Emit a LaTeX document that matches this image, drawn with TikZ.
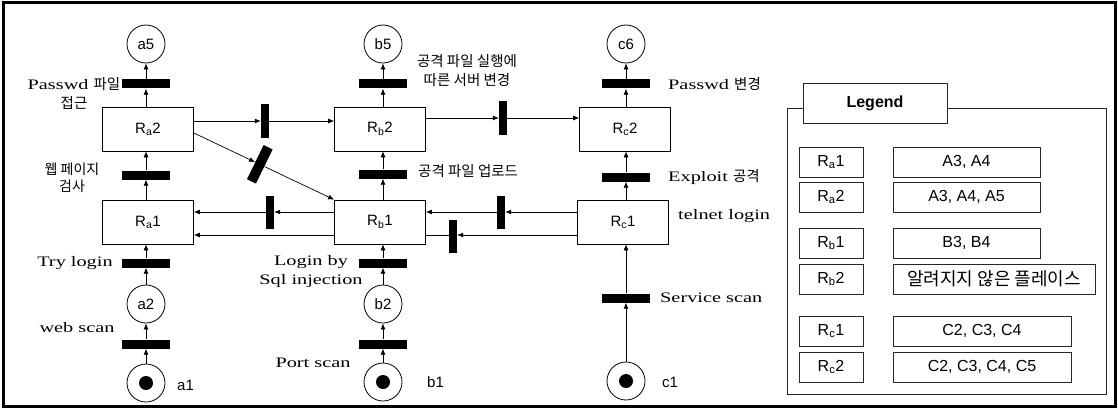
\documentclass[tikz,border=0pt]{standalone}
\usepackage{fontspec}
\setmainfont{Liberation Serif}
\setsansfont{Liberation Sans}
\newfontfamily\lblfont[FakeStretch=1.4]{Liberation Serif}
\newfontfamily\krfont{Noto Sans CJK KR}
\newcommand\hk[1]{{\krfont #1}}
\usetikzlibrary{arrows.meta,calc}

\begin{document}
\begin{tikzpicture}[x=1pt,y=-1pt,
  plc/.style={circle,draw,line width=0.8pt,minimum size=38pt,inner sep=0pt,font=\sffamily\fontsize{15}{15}\selectfont},
  hbar/.style={rectangle,fill=black,minimum width=48pt,minimum height=9pt,inner sep=0pt},
  vbar/.style={rectangle,fill=black,minimum width=8pt,minimum height=33pt,inner sep=0pt},
  rbox/.style={rectangle,draw,line width=0.7pt,minimum width=91pt,minimum height=44pt,inner sep=0pt,font=\sffamily\fontsize{15}{15}\selectfont},
  lab/.style={inner sep=0pt,align=center,font=\lblfont\fontsize{14.5}{19}\selectfont},
  sublab/.style={inner sep=0pt,anchor=west,font=\sffamily\fontsize{15}{15}\selectfont},
  arr/.style={line width=0.7pt,-{Latex[length=6pt,width=5pt]}},
  link/.style={line width=0.7pt},
  tok/.style={circle,fill=black,minimum size=14pt,inner sep=0pt},
  lgbox/.style={rectangle,draw=black!85,line width=0.7pt,minimum height=30pt,inner sep=0pt,font=\sffamily\fontsize{16}{16}\selectfont},
]
\useasboundingbox (0,0) rectangle (1118,409);
% outer frame
\draw[line width=3pt] (3,3) rectangle (1115,406);

% ---------- column a ----------
\node[plc] (a5) at (146,44) {a5};
\node[hbar] (ta5) at (146,84) {};
\node[rbox] (Ra2) at (148,129) {R\textsubscript{a}2};
\node[hbar] (taw) at (146,175) {};
\node[rbox] (Ra1) at (148,222) {R\textsubscript{a}1};
\node[hbar] (tat) at (146,263) {};
\node[plc] (a2) at (146,304) {a2};
\node[hbar] (tas) at (146,344) {};
\node[plc] (a1) at (146,383) {};
\node[tok] (ka1) at (a1) {};

\draw[arr] (a1) -- (tas);
\draw[arr] (tas) -- (a2);
\draw[arr] (a2) -- (tat);
\draw[arr] (tat) -- (Ra1.south -| tat);
\draw[arr] (Ra1.north -| taw) -- (taw);
\draw[arr] (taw) -- (Ra2.south -| taw);
\draw[arr] (Ra2.north -| ta5) -- (ta5);
\draw[arr] (ta5) -- (a5);

% ---------- column b ----------
\node[plc] (b5) at (383,44) {b5};
\node[hbar] (tb5) at (383,84) {};
\node[rbox] (Rb2) at (380,129) {R\textsubscript{b}2};
\node[hbar] (tbu) at (383,174) {};
\node[rbox] (Rb1) at (380,222) {R\textsubscript{b}1};
\node[hbar] (tbl) at (383,263) {};
\node[plc] (b2) at (383,304) {b2};
\node[hbar] (tbs) at (383,344) {};
\node[plc] (b1) at (383,382) {};
\node[tok] (kb1) at (b1) {};

\draw[arr] (b1) -- (tbs);
\draw[arr] (tbs) -- (b2);
\draw[arr] (b2) -- (tbl);
\draw[arr] (tbl) -- (Rb1.south -| tbl);
\draw[arr] (Rb1.north -| tbu) -- (tbu);
\draw[arr] (tbu) -- (Rb2.south -| tbu);
\draw[arr] (Rb2.north -| tb5) -- (tb5);
\draw[arr] (tb5) -- (b5);

% ---------- column c ----------
\node[plc] (c6) at (626,44) {c6};
\node[hbar] (tc6) at (626,84) {};
\node[rbox] (Rc2) at (625,129) {R\textsubscript{c}2};
\node[hbar] (tce) at (626,177) {};
\node[rbox] (Rc1) at (623,222) {R\textsubscript{c}1};
\node[hbar] (tcs) at (626,298) {};
\node[plc] (c1) at (626,381) {};
\node[tok] (kc1) at (c1) {};

\draw[arr] (c1) -- (tcs);
\draw[arr] (tcs) -- (Rc1.south -| tcs);
\draw[arr] (Rc1.north -| tce) -- (tce);
\draw[arr] (tce) -- (Rc2.south -| tce);
\draw[arr] (Rc2.north -| tc6) -- (tc6);
\draw[arr] (tc6) -- (c6);

% ---------- cross links ----------
% upper row, left to right
\node[vbar] (tab) at (265,121) {};
\draw[arr] (Ra2.east |- tab) -- (tab);
\draw[arr] (tab) -- (Rb2.west |- tab);
\node[vbar] (tbc) at (503,118) {};
\draw[arr] (Rb2.east |- tbc) -- (tbc);
\draw[arr] (tbc) -- (Rc2.west |- tbc);

% diagonal Ra2 -> Rb1
\coordinate (dgs) at ($(Ra2.east)+(0,4)$);
\node[vbar,minimum height=38pt,minimum width=10pt,rotate=-26] (tdg) at ($(dgs)!0.47!(Rb1.north west)$) {};
\draw[arr] (dgs) -- (tdg);
\draw[arr] (tdg) -- (Rb1.north west);

% lower row, right to left
\node[vbar] (tba) at (270,212) {};
\draw[arr] (Rb1.west |- tba) -- (tba);
\draw[arr] (tba) -- (Ra1.east |- tba);
\coordinate (lowab) at (300,235);
\draw[arr] (Rb1.west |- lowab) -- (Ra1.east |- lowab);

\node[vbar] (tcb1) at (501,212) {};
\draw[arr] (Rc1.west |- tcb1) -- (tcb1);
\draw[arr] (tcb1) -- (Rb1.east |- tcb1);
\node[vbar] (tcb2) at (453,236) {};
\coordinate (lowbc) at (500,235);
\draw[arr] (Rc1.west |- lowbc) -- (tcb2.east |- lowbc);
\draw[link] (tcb2.west |- lowbc) -- (Rb1.east |- lowbc);

% ---------- transition labels ----------
\node[lab] (la5) at (74,93) {Passwd \hk{파일}\\\hk{접근}};
\node[lab,font=\krfont\fontsize{14}{17}\selectfont] (law) at (72,178) {웹 페이지\\검사};
\node[lab] (lat) at (75,263) {Try login};
\node[lab] (las) at (77,328) {web scan};
\node[sublab] (na1) at (177,385) {a1};

\node[lab,font=\krfont\fontsize{14.5}{19}\selectfont] (lb5) at (467,71) {공격 파일 실행에\\따른 서버 변경};
\node[lab,anchor=west,font=\krfont\fontsize{14.5}{19}\selectfont] (lbu) at (418,171) {공격 파일 업로드};
\node[lab] (lbl) at (311,272) {Login by\\Sql injection};
\node[lab] (lbs) at (313,363) {Port scan};
\node[sublab] (nb1) at (427,382) {b1};

\node[lab,anchor=west] (lc6) at (668,84) {Passwd \hk{변경}};
\node[lab,anchor=west] (lce) at (668,177) {Exploit \hk{공격}};
\node[lab,anchor=west] (lct) at (678,216) {telnet login};
\node[lab,anchor=west] (lcs) at (660,298) {Service scan};
\node[sublab] (nc1) at (662,382) {c1};

% ---------- legend ----------
\draw[draw=black!85,line width=0.7pt] (787,108) rectangle (1106,394);
\node[lgbox,fill=white,minimum width=144pt,minimum height=40pt,font=\sffamily\bfseries\fontsize{16}{16}\selectfont] (lgt) at (875,103) {Legend};

\node[lgbox,minimum width=64pt] (ga1) at (831,162) {R\textsubscript{a}1};
\node[lgbox,minimum width=147pt] (va1) at (966.5,162) {A3, A4};
\node[lgbox,minimum width=64pt] (ga2) at (831,197) {R\textsubscript{a}2};
\node[lgbox,minimum width=147pt] (va2) at (966.5,197) {A3, A4, A5};

\node[lgbox,minimum width=64pt] (gb1) at (831,243) {R\textsubscript{b}1};
\node[lgbox,minimum width=147pt] (vb1) at (966.5,243) {B3, B4};
\node[lgbox,minimum width=64pt] (gb2) at (831,279) {R\textsubscript{b}2};
\node[lgbox,minimum width=202pt,font=\krfont\fontsize{18}{18}\selectfont] (vb2) at (994,279) {알려지지 않은 플레이스};

\node[lgbox,minimum width=64pt] (gc1) at (831,331) {R\textsubscript{c}1};
\node[lgbox,minimum width=178pt] (vc1) at (982,331) {C2, C3, C4};
\node[lgbox,minimum width=64pt] (gc2) at (831,367) {R\textsubscript{c}2};
\node[lgbox,minimum width=178pt] (vc2) at (982,367) {C2, C3, C4, C5};
\end{tikzpicture}
\end{document}
